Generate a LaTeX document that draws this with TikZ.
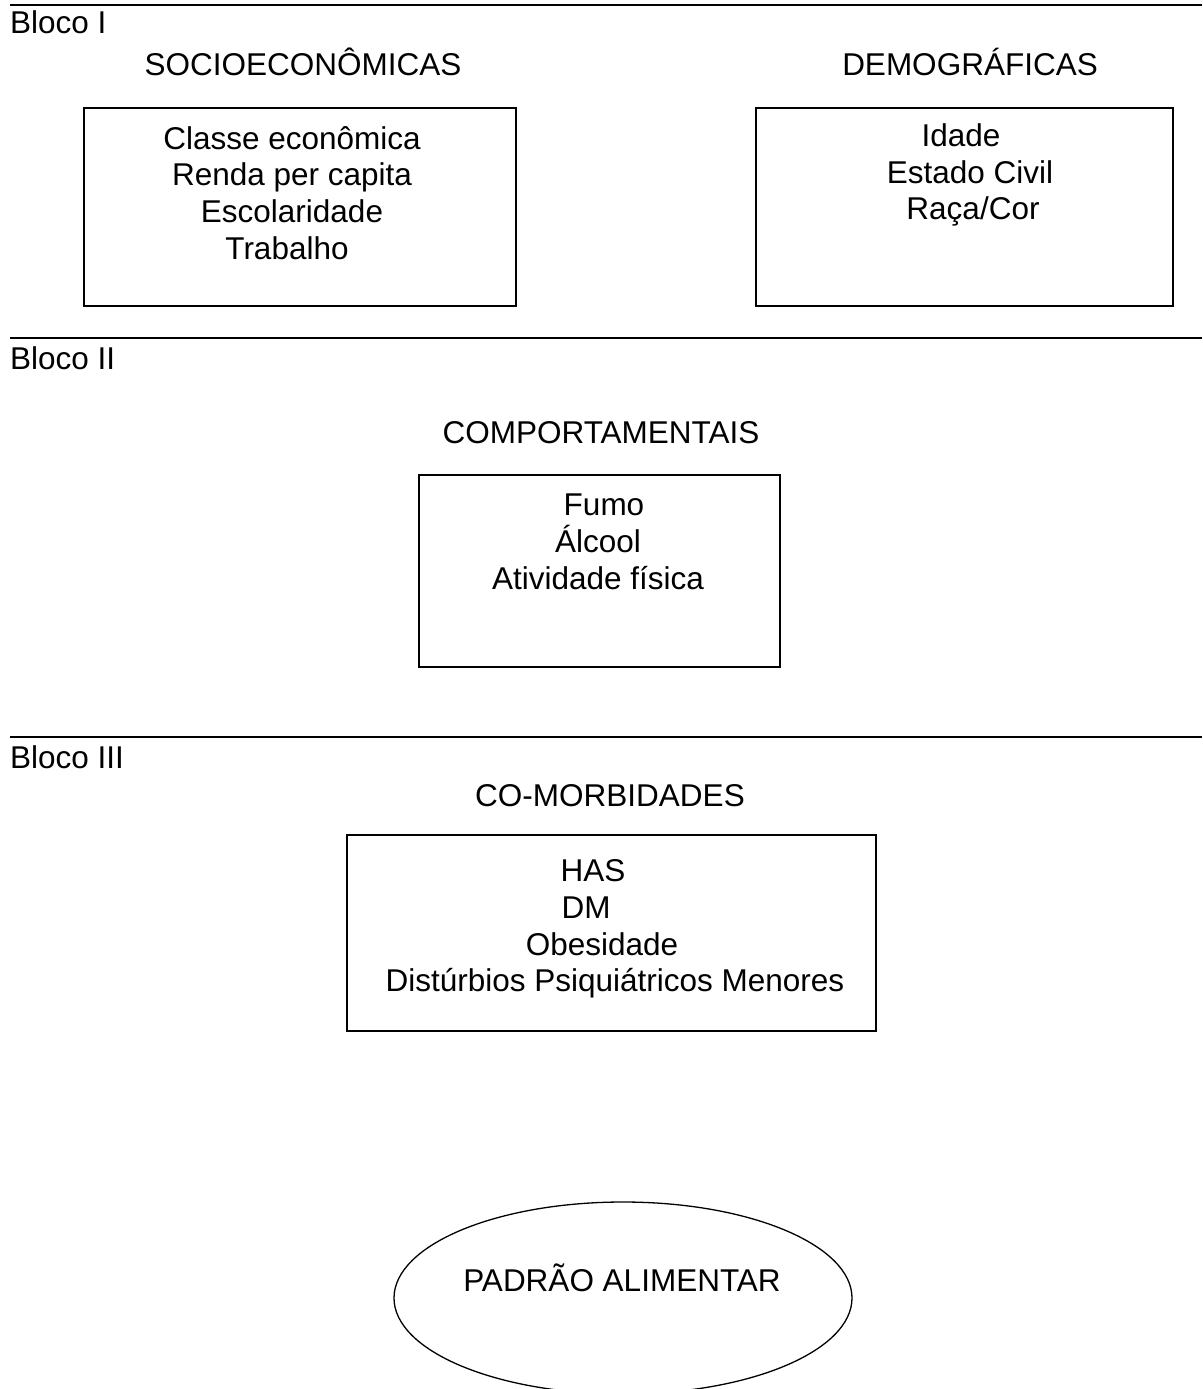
\documentclass[tikz,border=0pt]{standalone}
\usepackage{fontspec}
\setmainfont{Liberation Sans}
\usetikzlibrary{shapes.geometric}

\begin{document}
\begin{tikzpicture}[x=1pt, y=-1pt,
    every node/.style={font=\fontsize{31.5}{36.7}\selectfont, inner sep=0pt},
    caixa/.style={draw, line width=1.5pt, anchor=north west},
    regua/.style={line width=2.8pt},
    lista/.style={align=center}
    ]
    \useasboundingbox (0,0) rectangle (1202,1389);
    % Bloco I
    \draw[regua] (10,5) -- (1202,5);
    \node[anchor=west] (bloco1) at (10,22) {Bloco I};
    \node (sociotit) at (303,62) {SOCIOECONÔMICAS};
    \node (demotit) at (970,62) {DEMOGRÁFICAS};
    \node[caixa, minimum width=432, minimum height=198] (socio) at (83,107) {};
    \node[caixa, minimum width=417, minimum height=198] (demo) at (755,107) {};
    \node[lista] (socioitens) at (292,193) {Classe econômica\\Renda per capita\\Escolaridade\\\mbox{Trabalho\hspace{10pt}}};
    \node[lista] (demoitens) at (970,175) {\mbox{Idade\hspace{18pt}}\\Estado Civil\\\mbox{\hspace{6pt}Raça/Cor}};
    % Bloco II
    \draw[regua] (10,338) -- (1202,338);
    \node[anchor=west] (bloco2) at (10,358) {Bloco II};
    \node (comptit) at (601,433) {COMPORTAMENTAIS};
    \node[caixa, minimum width=361, minimum height=192] (comp) at (418,474) {};
    \node[lista] (compitens) at (598,542) {\mbox{\hspace{12pt}Fumo}\\Álcool\\Atividade física};
    % Bloco III
    \draw[regua] (10,737) -- (1202,737);
    \node[anchor=west] (bloco3) at (10,757) {Bloco III};
    \node (morbtit) at (610,796) {CO-MORBIDADES};
    \node[caixa, minimum width=529, minimum height=196] (morb) at (346,834) {};
    \node[lista] (morbitens) at (615,929) {\mbox{HAS\hspace{44pt}}\\\mbox{DM\hspace{58pt}}\\\mbox{Obesidade\hspace{26pt}}\\Distúrbios Psiquiátricos Menores};
    % desfecho
    \node[draw, ellipse, line width=1.3pt, minimum width=458, minimum height=192] (padrao) at (623,1298) {};
    \node (padraotxt) at (622,1278) {PADRÃO ALIMENTAR};
\end{tikzpicture}
\end{document}
